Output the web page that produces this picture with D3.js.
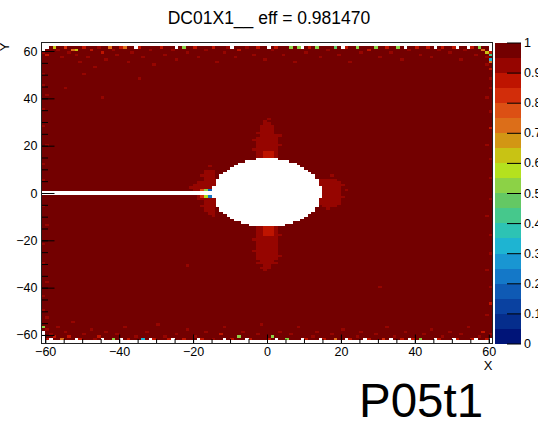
<!DOCTYPE html>
<html><head><meta charset="utf-8">
<script src="https://cdn.jsdelivr.net/npm/d3@7"></script>
<style>
body{margin:0;background:#fff;}
svg{display:block;}
text{font-family:"Liberation Sans",Arial,Helvetica,sans-serif;fill:#000;}
</style>
</head><body>
<svg id="c" width="538" height="423"></svg>
<script>
// ---------- DATA ----------
const titleText = "DC01X1__ eff = 0.981470";
const cornerLabel = "P05t1";
const xTitle = "X", yTitle = "Y";
const xDomain = [-61, 61];
const yDomain = [-63.6, 63.6];
const xMajorTicks = [-60, -40, -20, 0, 20, 40, 60];
const yMajorTicks = [-60, -40, -20, 0, 20, 40, 60];
const minorStep = 5;
const zTicks = [0, 0.1, 0.2, 0.3, 0.4, 0.5, 0.6, 0.7, 0.8, 0.9, 1];
// 20-level palette, lowest to highest
const palette = ["#001478","#052d8c","#0a41a0","#0f5ab4","#1478c8","#1996d2","#1eb4d2","#2dc3b4",
  "#46c88c","#64c864","#8cd246","#b4e11e","#c8c314","#d29614","#dc6e19","#dc5014",
  "#d22d0a","#be1400","#960500","#730000"];
// binning of filled area (cm)
const binSize = 1;
const dataXRange = [-61, 61];
const dataYRange = [-62, 62];
const baseEff = 0.985;
// dead zone (beam hole) and beam-pipe stripe: no entries
const holeCenter = [0, 0.2];
const holeRadius = 14.7;
const emptyStripe = [-61, -15, -1, 1]; // x0,x1,y0,y1
// lower-efficiency patches around the hole [x0,x1,y0,y1,eff]
const patches = [
  [-3, 3, 15, 26, 0.93], [-2, 2, 26, 30, 0.93], [-1, 2, 14, 18, 0.88],
  [-3, 3, -30, -14, 0.93], [-2, 1, -32, -30, 0.93], [-1, 2, -18, -13, 0.88],
  [-17, -14, -9, 10, 0.93], [-19, -17, -3, 5, 0.94], [-20, -18, 1, 4, 0.93],
  [14, 20, -6, 6, 0.93], [15, 17, -2, 3, 0.92]
];
// individual cells [x, y, eff]
const cellsTop = [
 [-61,59,.9],[-60,58,.88],[-58,61,.6],[-57,60,.92],[-56,57,.93],[-55,61,.82],[-54,59,.9],[-53,60,.72],[-52,60,.64],[-52,58,.9],
 [-51,55,.93],[-50,61,.88],[-49,57,.92],[-48,60,.85],[-47,53,.93],[-46,61,.9],[-45,59,.88],[-44,56,.93],[-43,61,.74],[-42,60,.9],
 [-41,58,.92],[-40,61,.86],[-39,61,.7],[-38,55,.93],[-37,59,.9],[-35,61,.88],[-34,57,.92],[-32,60,.9],[-31,54,.93],[-29,61,.85],
 [-28,58,.92],[-26,60,.9],[-25,56,.93],[-23,61,.52],[-22,59,.9],[-20,61,.88],[-19,57,.93],[-17,60,.9],[-15,61,.86],[-14,55,.93],
 [-12,59,.92],[-11,61,.9],[-9,57,.93],[-8,60,.88],[-6,61,.9],[-4,58,.92],[-3,61,.86],[-1,56,.93],[1,60,.9],[2,61,.88],
 [4,58,.92],[6,61,.5],[7,55,.93],[8,61,.52],[10,59,.9],[11,61,.86],[13,61,.5],[14,57,.92],[16,60,.9],[18,61,.48],
 [19,58,.93],[21,61,.88],[22,55,.93],[24,61,.5],[25,59,.9],[27,60,.88],[29,61,.5],[30,57,.92],[32,61,.86],[33,59,.9],
 [35,61,.52],[36,56,.93],[38,60,.9],[40,61,.88],[41,58,.92],[43,61,.85],[44,57,.93],[46,60,.9],[47,61,.88],[49,59,.92],
 [50,61,.86],[52,56,.93],[53,60,.9],[55,61,.85],[56,58,.9],[57,61,.5],[58,60,.7],[59,59,.6],[59,57,.9],[60,59,.88],
 [60,58,.4],[60,56,.32],[60,55,.7],[59,54,.9],[60,52,.88]
];
const cellsBottom = [
 [-61,-57,.52],[-60,-58,.9],[-60,-62,.88],[-59,-60,.9],[-58,-61,.85],[-57,-57,.93],[-56,-62,.7],[-55,-59,.9],[-54,-61,.88],[-53,-55,.93],
 [-51,-62,.86],[-50,-60,.92],[-48,-58,.93],[-47,-62,.9],[-46,-61,.85],[-44,-59,.92],[-42,-62,.5],[-41,-60,.9],[-39,-57,.93],[-38,-62,.88],
 [-36,-61,.9],[-34,-62,.32],[-33,-59,.92],[-31,-62,.88],[-30,-56,.93],[-28,-61,.9],[-27,-62,.86],[-25,-60,.92],[-23,-62,.88],[-22,-58,.93],
 [-20,-61,.9],[-18,-62,.85],[-17,-59,.92],[-15,-62,.9],[-13,-60,.88],[-12,-57,.93],[-10,-62,.86],[-8,-61,.5],[-7,-59,.92],[-5,-62,.88],
 [-3,-60,.9],[-2,-56,.93],[0,-62,.85],[1,-61,.5],[3,-59,.92],[5,-62,.52],[6,-60,.9],[8,-57,.93],[10,-62,.88],[12,-61,.9],
 [13,-59,.92],[15,-62,.85],[17,-60,.9],[18,-62,.7],[20,-58,.93],[22,-62,.88],[24,-61,.9],[25,-59,.92],[27,-62,.86],[29,-60,.9],
 [31,-62,.82],[32,-57,.93],[34,-61,.9],[36,-62,.88],[37,-59,.92],[39,-62,.86],[41,-62,.5],[42,-60,.9],[44,-58,.93],[46,-62,.85],
 [47,-61,.9],[49,-59,.92],[51,-62,.88],[52,-60,.9],[54,-57,.93],[55,-62,.86],[57,-61,.9],[58,-59,.88],[59,-62,.85],[60,-60,.9]
];
const cellsSides = [
 [-61,50,.9],[-61,45,.92],[-60,41,.93],[-61,35,.9],[-61,28,.92],[-60,20,.93],[-61,12,.9],[-61,5,.92],[-61,-6,.9],[-60,-14,.93],
 [-61,-22,.9],[-61,-30,.92],[-60,-38,.93],[-61,-44,.9],[-61,-50,.92],[-60,-53,.9],
 [60,48,.9],[60,44,.92],[59,40,.93],[60,34,.9],[60,27,.85],[59,20,.93],[60,14,.9],[60,6,.92],[60,-3,.9],[59,-10,.93],
 [60,-18,.9],[60,-26,.92],[59,-33,.93],[60,-40,.9],[60,-47,.88],[59,-52,.92]
];
const cellsInner = [
 [-22,-31,.9],[-45,40,.93],[30,-40,.93],[-35,48,.92],[-55,44,.92],[-50,50,.93],
 [-17,1,.5],[-16,1,.18],[-17,-2,.55],[-16,-2,.2],[-18,1,.75],[-18,-2,.8],
 [-4,18,.93],[-4,22,.93],[3,20,.93],[3,24,.93],[2,25,.985],[-3,24,.985],[-2,29,.985],[1,29,.985],[-1,30,.93],[0,31,.94],
 [-4,-20,.93],[-4,-25,.93],[3,-18,.93],[3,-27,.93],[-3,-29,.985],[2,-29,.985],[-1,-33,.93],[-2,-31,.985],
 [-18,7,.93],[-18,-6,.93],[-21,2,.93],[-17,10,.985],[-17,-9,.985],[-16,11,.93],[-15,-10,.93],
 [20,3,.93],[20,-2,.93],[21,1,.94],[14,6,.985],[19,5,.985],[19,-6,.985],[14,-6,.985],[17,7,.93],[16,-7,.93]
];
// empty (no entries) cells [x, y]
const emptyCells = [
 [-61,61],[-60,61],[-61,60],[-36,61],[-25,61],[-10,61],[0,61],[9,61],[20,61],[37,61],[45,61],[51,61],[54,61],[60,61],[60,60],
 [-61,-62],[-61,-61],[-61,-60],[-61,-59],[-59,-62],[-52,-62],[-45,-62],[-40,-62],[-32,-62],[-26,-62],[-19,-62],[-12,-62],
 [-6,-62],[2,-62],[9,-62],[14,-62],[21,-62],[26,-62],[33,-62],[38,-62],[45,-62],[50,-62],[56,-62],[60,-62]
];

// ---------- LAYOUT ----------
const frame = {l: 41.5, r: 492.5, t: 42.5, b: 343.5};
const bar = {l: 495, r: 521};
const svg = d3.select("#c");
const x = d3.scaleLinear().domain(xDomain).range([frame.l, frame.r]);
const y = d3.scaleLinear().domain(yDomain).range([frame.b, frame.t]);
const color = d3.scaleQuantize().domain([0, 1]).range(palette);

// ---------- BUILD GRID ----------
const key = (a, b) => a + "," + b;
const emptySet = new Set(emptyCells.map(d => key(d[0], d[1])));
const cellMap = new Map();
[...cellsTop, ...cellsBottom, ...cellsSides, ...cellsInner].forEach(d => cellMap.set(key(d[0], d[1]), d[2]));
const grid = [];
for (let cx = dataXRange[0]; cx < dataXRange[1]; cx += binSize) {
  for (let cy = dataYRange[0]; cy < dataYRange[1]; cy += binSize) {
    const mx = cx + binSize / 2, my = cy + binSize / 2;
    if (emptySet.has(key(cx, cy))) continue;
    if (Math.hypot(mx - holeCenter[0], my - holeCenter[1]) < holeRadius) continue;
    if (mx >= emptyStripe[0] && mx < emptyStripe[1] && my >= emptyStripe[2] && my < emptyStripe[3]) continue;
    let v = baseEff;
    patches.forEach(p => { if (mx >= p[0] && mx < p[1] && my >= p[2] && my < p[3]) v = p[4]; });
    if (cellMap.has(key(cx, cy))) v = cellMap.get(key(cx, cy));
    grid.push({x: cx, y: cy, v});
  }
}

svg.append("g").attr("shape-rendering", "crispEdges")
  .selectAll("rect").data(grid).join("rect")
  .attr("x", d => x(d.x)).attr("y", d => y(d.y + binSize))
  .attr("width", d => x(d.x + binSize) - x(d.x) + 0.3)
  .attr("height", d => y(d.y) - y(d.y + binSize) + 0.3)
  .attr("fill", d => color(d.v));

// ---------- AXES ----------
const fmt = d => (d < 0 ? "\u2212" + Math.abs(d) : "" + d);
const xMinor = d3.range(xMajorTicks[0], xMajorTicks[xMajorTicks.length - 1] + 0.1, minorStep);
const yMinor = d3.range(yMajorTicks[0], yMajorTicks[yMajorTicks.length - 1] + 0.1, minorStep);

svg.append("g").attr("transform", `translate(0,${frame.b})`)
  .call(d3.axisBottom(x).tickValues(xMajorTicks).tickSize(-9).tickPadding(4).tickFormat(fmt));
svg.append("g").attr("transform", `translate(0,${frame.b})`)
  .call(d3.axisBottom(x).tickValues(xMinor).tickSize(-4.5).tickFormat(""));
svg.append("g").attr("transform", `translate(${frame.l},0)`)
  .call(d3.axisLeft(y).tickValues(yMajorTicks).tickSize(-13).tickPadding(4).tickFormat(fmt));
svg.append("g").attr("transform", `translate(${frame.l},0)`)
  .call(d3.axisLeft(y).tickValues(yMinor).tickSize(-6.5).tickFormat(""));
svg.selectAll(".domain").remove();
svg.selectAll(".tick line").attr("stroke", "#000").attr("stroke-width", 1);
svg.selectAll(".tick text").attr("font-size", 12.5).attr("font-family", '"Liberation Sans",Arial,sans-serif').attr("fill", "#000");

// frame
svg.append("rect").attr("x", frame.l).attr("y", frame.t)
  .attr("width", frame.r - frame.l).attr("height", frame.b - frame.t)
  .attr("fill", "none").attr("stroke", "#222").attr("stroke-width", 1);

// ---------- COLOR BAR ----------
const z = d3.scaleLinear().domain([0, 1]).range([frame.b, frame.t]);
const bands = palette.map((c, i) => ({c, lo: i / palette.length, hi: (i + 1) / palette.length}));
svg.append("g").attr("shape-rendering", "crispEdges")
  .selectAll("rect").data(bands).join("rect")
  .attr("x", bar.l).attr("width", bar.r - bar.l)
  .attr("y", d => z(d.hi)).attr("height", d => z(d.lo) - z(d.hi) + 0.3)
  .attr("fill", d => d.c);
const gz = svg.append("g").attr("transform", `translate(${bar.r},0)`)
  .call(d3.axisRight(z).tickValues(zTicks).tickSize(-14).tickPadding(3).tickFormat(d3.format("~g")));
gz.select(".domain").remove();
gz.selectAll(".tick line").attr("stroke", "#000");
gz.selectAll(".tick text").attr("font-size", 12.5).attr("font-family", '"Liberation Sans",Arial,sans-serif').attr("fill", "#000");

// ---------- TEXT ----------
svg.append("text").attr("x", 269).attr("y", 24).attr("text-anchor", "middle")
  .attr("font-size", 17.5).text(titleText);
svg.append("text").attr("x", frame.r).attr("y", 370).attr("text-anchor", "end")
  .attr("font-size", 13).text(xTitle);
svg.append("text").attr("transform", `translate(9,${frame.t}) rotate(-90)`).attr("text-anchor", "end")
  .attr("font-size", 13).text(yTitle);
svg.append("text").attr("x", 359).attr("y", 417).attr("font-size", 47.5).text(cornerLabel);
</script>
</body></html>
